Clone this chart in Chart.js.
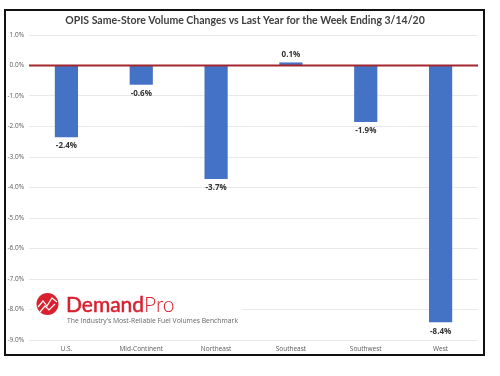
<!DOCTYPE html>
<html>
<head>
<meta charset="utf-8">
<style>
html, body { margin: 0; padding: 0; background: #fff; overflow: hidden; }
#box { position: relative; width: 500px; height: 376px; }
</style>
<script src="https://cdn.jsdelivr.net/npm/chart.js@4/dist/chart.umd.min.js"></script>
</head>
<body>
<div id="box"><canvas id="myChart" width="500" height="376"></canvas></div>
<script>
var categories = ['U.S.', 'Mid-Continent', 'Northeast', 'Southeast', 'Southwest', 'West'];
var volumeChanges = [-2.35, -0.63, -3.72, 0.1, -1.85, -8.42];
var titleText = 'OPIS Same-Store Volume Changes vs Last Year for the Week Ending 3/14/20';
var yMin = -9;
var yMax = 1;

// value labels above or below each bar
var valueLabels = {
    id: 'valueLabels',
    afterDatasetsDraw: function(chart) {
        var ctx = chart.ctx;
        var meta = chart.getDatasetMeta(0);
        ctx.save();
        ctx.font = 'bold 8px "Open Sans"';
        ctx.fillStyle = '#333333';
        ctx.textAlign = 'center';
        ctx.textBaseline = 'middle';
        meta.data.forEach(function(bar, i) {
            var v = volumeChanges[i];
            var offset = v < 0 ? 9 : -8;
            ctx.fillText(v.toFixed(1) + '%', bar.x, bar.y + offset);
        });
        ctx.restore();
    }
};

// red line on zero, goes over the bars
var zeroLine = {
    id: 'zeroLine',
    afterDatasetsDraw: function(chart) {
        var ctx = chart.ctx;
        var y = chart.scales.y.getPixelForValue(0);
        ctx.save();
        ctx.strokeStyle = '#a3262e';
        ctx.lineWidth = 2;
        ctx.beginPath();
        ctx.moveTo(chart.chartArea.left, y);
        ctx.lineTo(chart.chartArea.right, y);
        ctx.stroke();
        ctx.restore();
    }
};

// title, outer frame and the DemandPro logo
var frameAndLogo = {
    id: 'frameAndLogo',
    afterDraw: function(chart) {
        var ctx = chart.ctx;
        ctx.save();
        ctx.strokeStyle = '#111111';
        ctx.lineWidth = 2;
        ctx.strokeRect(5, 10, 479, 345);

        ctx.fillStyle = '#404040';
        ctx.font = '700 10.5px Lato';
        ctx.textAlign = 'center';
        ctx.textBaseline = 'middle';
        ctx.fillText(titleText, 245, 20.5);

        ctx.fillStyle = '#ffffff';
        ctx.fillRect(32, 290, 210, 38);

        ctx.fillStyle = '#d9202f';
        ctx.beginPath();
        ctx.arc(47.5, 304, 11, 0, Math.PI * 2);
        ctx.fill();
        ctx.strokeStyle = '#ffffff';
        ctx.lineWidth = 1.2;
        ctx.beginPath();
        ctx.moveTo(38, 307);
        ctx.lineTo(43, 301);
        ctx.lineTo(47, 306);
        ctx.lineTo(52, 298);
        ctx.lineTo(57, 302);
        ctx.stroke();
        ctx.beginPath();
        ctx.moveTo(40, 312);
        ctx.lineTo(45, 306);
        ctx.lineTo(49, 310);
        ctx.lineTo(55, 304);
        ctx.stroke();

        ctx.textBaseline = 'alphabetic';
        ctx.textAlign = 'left';
        ctx.fillStyle = '#d9202f';
        ctx.strokeStyle = '#d9202f';
        ctx.lineWidth = 0.5;
        ctx.font = '21px Lato';
        ctx.fillText('Demand', 66, 312);
        ctx.strokeText('Demand', 66, 312);
        var w = ctx.measureText('Demand').width;
        ctx.font = '300 21px Lato';
        ctx.fillText('Pro', 66 + w, 312);
        ctx.fillStyle = '#666666';
        ctx.font = '6.8px "Open Sans"';
        ctx.fillText('The Industry\u2019s Most-Reliable Fuel Volumes Benchmark', 67, 323);
        ctx.restore();
    }
};

var ctx = document.getElementById('myChart').getContext('2d');
var volumeChart = new Chart(ctx, {
    type: 'bar',
    data: {
        labels: categories,
        datasets: [{
            data: volumeChanges,
            backgroundColor: '#4472c4',
            barPercentage: 0.31,
            categoryPercentage: 1
        }]
    },
    options: {
        responsive: false,
        animation: false,
        layout: { padding: { left: 5, right: 22, top: 35, bottom: 0 } },
        plugins: {
            legend: { display: false },
            tooltip: { enabled: false }
        },
        scales: {
            x: {
                grid: { display: false, drawTicks: false },
                border: { display: false },
                ticks: {
                    color: '#595959',
                    font: { family: '"Open Sans"', size: 6.5 },
                    padding: 5,
                    maxRotation: 0,
                    autoSkip: false
                },
                afterFit: function(axis) { axis.height = 36; }
            },
            y: {
                min: yMin,
                max: yMax,
                grid: { color: '#e9e9e9', lineWidth: 1, drawTicks: false },
                border: { display: false },
                ticks: {
                    stepSize: 1,
                    color: '#595959',
                    padding: 5,
                    font: { family: '"Open Sans"', size: 6.5 },
                    callback: function(value) { return value.toFixed(1) + '%'; }
                },
                afterFit: function(axis) { axis.width = 24; }
            }
        }
    },
    plugins: [valueLabels, zeroLine, frameAndLogo]
});
</script>
</body>
</html>
